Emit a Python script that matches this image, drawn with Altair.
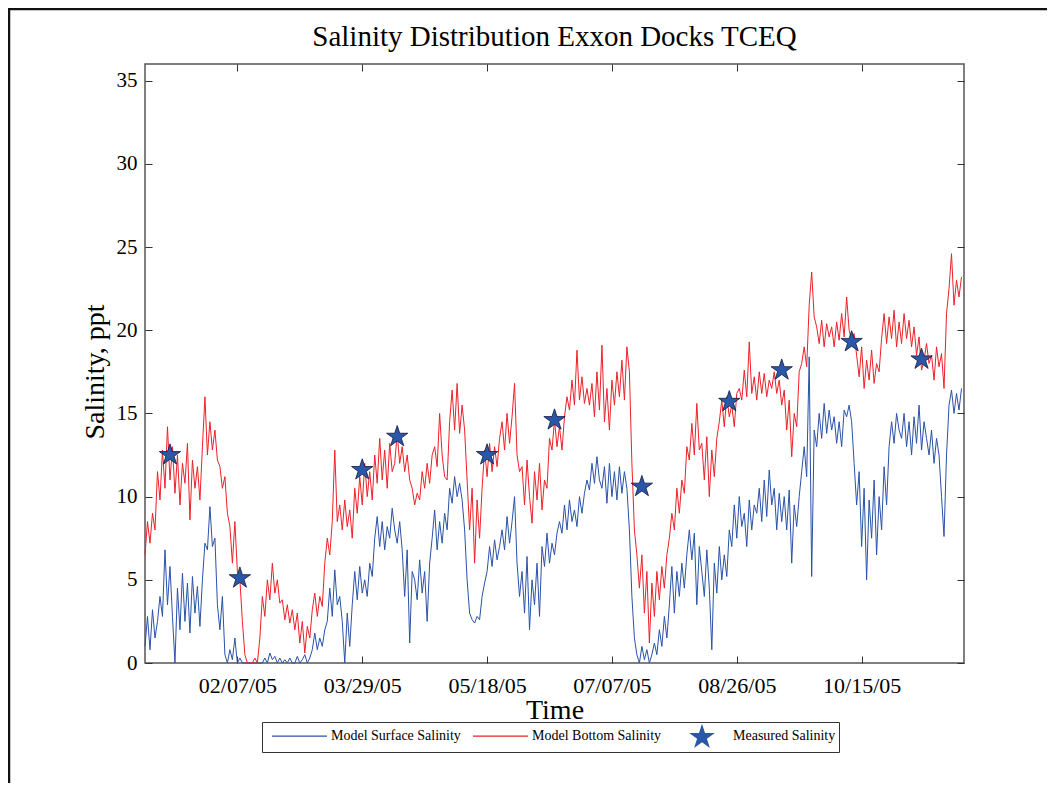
import json
import math
import altair as alt
import pandas as pd

# ---------------- data (day 0 = 2005-01-01, one value per day) ----------------
tick_days = [37, 87, 137, 187, 237, 287]
tick_labels = ["02/07/05", "03/29/05", "05/18/05", "07/07/05", "08/26/05", "10/15/05"]
y_ticks = [0, 5, 10, 15, 20, 25, 30, 35]

surface = [
    1.0, 2.8, 0.8, 3.2, 1.5, 2.5, 4.0,
    2.8, 6.8, 3.5, 5.8, 2.8, 0.0,
    4.5, 2.0, 5.4, 2.5, 4.8, 1.8, 5.2, 3.0, 4.6, 2.2, 5.0,
    7.2, 6.8, 9.4, 7.0, 7.5,
    3.5, 2.0, 4.0,
    0.5, 0.0, 0.8, 0.2, 1.5, 0.0, 0.3,
    0.0, 0.0, 0.0, 0.0, 0.0, 0.0, 0.0, 0.0, 0.0,
    0.3, 0.0, 0.6, 0.2, 0.4, 0.0, 0.3, 0.0, 0.2, 0.0,
    0.3, 0.0, 0.0, 0.4, 0.0, 0.2, 0.5, 0.0, 0.3, 0.8,
    1.8, 0.8, 1.5, 1.0, 2.0, 2.5,
    4.5, 2.8, 5.6, 3.5, 4.0,
    2.5, 0.0, 3.0, 1.0, 3.5,
    5.5, 3.8, 5.8, 4.2, 5.0, 4.0, 6.0, 5.2,
    7.5, 8.8, 7.0, 8.5, 6.8, 8.2, 7.5, 9.3,
    8.0, 7.2, 8.5, 6.8,
    4.0, 6.8, 1.2, 5.5,
    5.0, 3.8, 6.2, 4.2, 5.5, 2.5, 6.0,
    7.5, 9.2, 6.8, 8.5, 7.2, 9.0, 8.0,
    10.5, 9.6, 11.2, 10.0, 10.8, 9.8,
    8.0, 5.0, 3.0,
    2.6, 2.4, 2.8, 2.6,
    4.0, 4.8, 5.5,
    7.0, 5.8, 7.4, 6.2, 7.0,
    8.0, 6.8, 8.8, 7.2, 8.5, 10.0,
    6.0, 4.0,
    5.5, 3.0, 6.4, 2.0, 5.0, 3.5, 6.0, 2.8,
    7.0, 5.8, 7.8, 6.0, 7.2, 6.5, 7.8,
    8.5, 7.8, 9.5, 8.0, 9.8, 8.5, 9.2, 8.2, 10.0, 9.0, 10.2,
    11.0, 10.4, 12.0, 10.8, 12.4, 11.0,
    10.5, 11.8, 9.6, 12.0, 10.0, 11.5, 9.8, 11.8, 10.2, 11.5, 10.5,
    8.0, 4.0, 1.5,
    0.5, 0.0, 1.0, 0.2, 0.8, 0.0, 0.5, 1.2,
    0.5, 2.0, 1.0, 2.8, 1.5,
    3.5, 5.8, 3.0, 5.5, 4.0, 6.0, 4.5,
    6.5, 8.0, 6.2, 7.8, 3.5, 7.0,
    5.5, 4.0, 6.8, 4.5, 0.8, 6.0, 4.2, 7.0, 5.0, 6.5, 5.2,
    8.0, 7.0, 9.5, 7.5, 10.0, 8.2, 9.0, 7.0, 9.8, 8.0, 9.5,
    9.0, 10.5, 8.5, 11.0, 8.8, 11.6, 9.5, 10.5, 8.0, 10.2,
    8.5, 10.0, 8.0, 10.4, 6.0, 9.5, 8.2, 10.0,
    11.5, 13.0, 11.2,
    18.4, 5.2,
    14.0, 13.0, 15.0, 13.5, 15.6, 13.8, 15.2, 14.0, 14.8, 13.2, 14.5, 13.0,
    15.2, 14.8, 15.5, 14.5, 12.0,
    9.5, 11.5, 7.0, 10.5, 5.0, 9.8, 7.5, 11.0, 6.5, 10.0, 8.0, 11.8, 9.5,
    13.0, 14.5, 13.2, 15.0, 14.0,
    13.5, 15.0, 13.0, 14.5, 12.5, 14.8, 13.2, 15.5, 12.8, 14.5, 13.5,
    12.5, 14.0, 12.0, 13.5, 12.5,
    10.0, 7.6, 12.5,
    15.5, 16.4, 15.0, 16.2, 15.2, 16.5,
]

bottom = [
    6.5, 8.5, 7.2, 9.0, 8.0,
    11.5, 9.8, 12.8, 10.5, 14.2, 11.0, 13.0,
    10.2, 12.5, 9.5, 12.0, 10.8, 13.2, 8.6, 12.2, 10.5, 11.8, 9.8,
    13.0, 16.0, 12.5, 14.5, 12.8, 14.0, 12.2,
    11.8, 10.5, 11.2, 9.0,
    8.2, 6.0, 8.5, 5.5, 5.0,
    2.5, 0.5, 0.0, 0.0, 0.0, 0.3, 0.0, 1.5,
    4.0, 2.8, 5.0, 3.8, 6.0, 4.2, 5.0, 3.6,
    3.8, 2.6, 3.5, 2.4, 3.2, 2.0, 3.0,
    1.2, 2.5, 0.6, 2.2, 1.5,
    3.2, 4.2, 2.8, 4.0, 3.4,
    6.0, 7.5, 6.5, 8.5,
    12.8, 8.5, 9.5, 8.0, 9.8, 8.2, 9.2, 7.5,
    10.5, 9.0, 11.2, 9.5, 12.0, 10.0, 11.5, 9.8,
    12.5, 10.8, 13.5, 11.0, 12.8, 10.5, 13.2, 11.5,
    12.0, 13.8, 12.0, 13.0, 11.5, 12.5, 11.0,
    10.5, 9.5, 10.2, 9.8,
    11.5, 10.5, 12.0, 10.8, 12.5,
    13.0, 11.8, 15.0, 12.5, 11.2, 11.0,
    14.5, 16.4, 14.0, 16.8, 13.8, 15.5, 14.0,
    11.0, 8.0, 10.5, 6.0, 9.8, 7.5, 10.5,
    12.8, 11.2, 13.2, 11.5, 13.0, 11.8, 13.5,
    14.5, 12.8, 15.0, 13.2, 14.8, 16.8,
    12.5, 11.5,
    11.8, 9.5, 12.2, 10.0, 8.4, 11.5, 9.8, 12.0, 9.2, 11.0, 10.5,
    13.5, 12.8, 14.6, 13.0, 14.2, 12.8, 14.8,
    16.0, 15.2, 17.0, 15.5, 18.8, 15.8, 17.2, 15.6, 16.5,
    15.5, 16.8, 14.8, 17.5, 15.2, 19.1, 14.5, 16.5, 14.0, 17.0, 15.5,
    17.5, 16.0, 18.2, 15.8, 19.0, 17.5,
    12.0, 8.0, 6.5,
    4.5, 6.5, 3.0, 5.5, 1.2, 4.8, 2.8,
    5.5, 3.8, 5.8, 4.5, 6.5,
    7.5, 9.0, 8.0, 10.5, 9.0, 11.0, 10.2,
    13.0, 12.2, 14.4, 12.5, 15.6, 12.8,
    13.2, 11.0, 13.6, 10.0, 12.8, 11.2, 13.5,
    14.5, 15.8, 14.2, 16.0, 14.8, 15.5, 14.2, 16.2,
    16.5, 15.8, 17.6, 16.0, 19.3, 16.2, 17.2, 15.8, 17.5,
    16.2, 17.4, 16.0, 17.0, 16.5, 17.5, 16.2, 17.0,
    15.5, 16.4, 14.0, 15.8, 12.4, 15.0, 14.2,
    17.5, 18.0, 19.0, 17.8,
    21.5, 23.5, 20.8,
    20.2, 19.2, 20.6, 19.0, 20.4, 19.6, 20.2, 19.0, 20.5, 19.4,
    21.0, 19.6, 22.0, 20.0, 19.4, 19.8,
    18.5, 17.2, 19.0, 16.5, 18.2, 17.0, 18.8, 16.8, 18.0, 17.5,
    19.5, 21.0, 19.2, 20.8, 19.5, 21.2, 19.0, 20.5, 19.2, 21.0, 19.5, 20.6, 19.0, 20.2,
    18.5, 19.6, 17.6, 18.2, 19.2, 18.0,
    18.5, 17.0, 19.0, 17.8, 18.6, 16.5,
    21.0, 22.5, 24.6, 21.5, 23.0, 22.0, 23.2,
]

measured_day = [10, 38, 87, 101, 137, 164, 199, 234, 255, 283, 311]
measured_val = [12.5, 5.1, 11.6, 13.6, 12.5, 14.6, 10.6, 15.7, 17.6, 19.3, 18.25]

series_names = ["Model Surface Salinity", "Model Bottom Salinity", "Measured Salinity"]
series_colors = ["#2A52A8", "#EE2028", "#2A57A7"]

# ---------------- layout constants ----------------
W, H = 819, 599
PAD = {"left": 137, "top": 56, "right": 83, "bottom": 120}
SERIF = "Liberation Serif"
X_MAX, Y_MAX = 328, 36


def star_path(dx, dy=0.0, R=1.15, ri=0.382):
    pts = []
    for k in range(10):
        ang = math.radians(-90 + 36 * k)
        r = R if k % 2 == 0 else R * ri
        pts.append((dx + r * math.cos(ang), dy + r * math.sin(ang)))
    return "M" + "L".join(f"{x:.4f},{y:.4f}" for x, y in pts) + "Z"


# line sample for the legend; the two lone move-to points only give it the
# same vertical extent as the (vertically centred) star symbol
LINE_SYMBOL = "M-0.4,-1.04M-0.4,1.04M-0.4,0H5.1"
STAR_DX = 2.4
STAR_DY = 0.11
LEGEND_SIZE = 400
STAR_SIZE = 380

surf_df = pd.DataFrame({"day": list(range(len(surface))), "value": surface,
                        "series": series_names[0]})
bot_df = pd.DataFrame({"day": list(range(len(bottom))), "value": bottom,
                       "series": series_names[1]})
meas_df = pd.DataFrame({"day": measured_day, "value": measured_val,
                        "series": series_names[2]})

x_scale = alt.Scale(domain=[0, X_MAX], nice=False, zero=False)
y_scale = alt.Scale(domain=[0, Y_MAX], nice=False, zero=False)
color_scale = alt.Scale(domain=series_names, range=series_colors)
shape_scale = alt.Scale(domain=series_names,
                        range=[LINE_SYMBOL, LINE_SYMBOL, star_path(STAR_DX, STAR_DY)])

legend = alt.Legend(
    title=None, orient="none", legendX=117, legendY=658, direction="horizontal",
    symbolSize=LEGEND_SIZE, symbolStrokeWidth=1.2, labelFont=SERIF,
    labelFontSize=14, labelColor="black", labelOffset=44, columnPadding=5,
    strokeColor="#333333", padding=3, labelBaseline="middle",
)

label_expr = f"{json.dumps(tick_labels)}[indexof({json.dumps(tick_days)}, datum.value)]"

tick_style = dict(labels=False, ticks=True, tickSize=7, tickColor="#333333",
                  tickWidth=1, domain=False, grid=False, title=None)

x_main = alt.Axis(orient="bottom", values=tick_days, labelExpr=label_expr, ticks=False,
                  domain=False, grid=False, title="Time", labelFont=SERIF,
                  labelFontSize=22, labelColor="black", labelPadding=12,
                  titleFont=SERIF, titleFontSize=28, titleFontWeight="normal",
                  titleColor="black", titlePadding=0)
y_main = alt.Axis(orient="left", values=y_ticks, ticks=False, domain=False, grid=False,
                  title="Salinity, ppt", labelFont=SERIF, labelFontSize=21,
                  labelColor="black", labelPadding=8, titleFont=SERIF,
                  titleFontSize=28, titleFontWeight="normal", titleColor="black",
                  titlePadding=7, titleY=H / 2 + 8)
x_tick_bottom = alt.Axis(orient="top", offset=-H, values=tick_days, **tick_style)
x_tick_top = alt.Axis(orient="bottom", offset=-H, values=tick_days, **tick_style)
y_tick_left = alt.Axis(orient="right", offset=-W, values=y_ticks, **tick_style)
y_tick_right = alt.Axis(orient="left", offset=-W, values=y_ticks, **tick_style)

surf_layer = alt.Chart(surf_df).mark_line(strokeWidth=1).encode(
    x=alt.X("day:Q", scale=x_scale, axis=x_main),
    y=alt.Y("value:Q", scale=y_scale, axis=y_main),
    color=alt.Color("series:N", scale=color_scale, legend=legend),
)

bot_layer = alt.Chart(bot_df).mark_line(strokeWidth=1).encode(
    x=alt.X("day:Q", scale=x_scale, axis=x_tick_bottom),
    y=alt.Y("value:Q", scale=y_scale, axis=y_tick_left),
    color=alt.Color("series:N", scale=color_scale, legend=legend),
)

star_half = math.sqrt(STAR_SIZE) / 2
star_fill = alt.Chart(meas_df).mark_point(
    filled=True, opacity=1, size=STAR_SIZE, strokeWidth=0,
    xOffset=-STAR_DX * star_half, yOffset=-STAR_DY * star_half,
).encode(
    x=alt.X("day:Q", scale=x_scale, axis=x_tick_top),
    y=alt.Y("value:Q", scale=y_scale, axis=y_tick_right),
    color=alt.Color("series:N", scale=color_scale, legend=legend),
    shape=alt.Shape("series:N", scale=shape_scale, legend=legend),
)

star_edge = alt.Chart(meas_df).mark_point(
    filled=False, opacity=1, size=STAR_SIZE, shape=star_path(0),
    stroke="#15153a", strokeWidth=0.8,
).encode(
    x=alt.X("day:Q", scale=x_scale, axis=None),
    y=alt.Y("value:Q", scale=y_scale, axis=None),
)

frame_df = pd.DataFrame({"k": [0]})
border_top = alt.Chart(frame_df).mark_rule(color="#111111", strokeWidth=2.5).encode(
    x=alt.value(-PAD["left"]), x2=alt.value(W + PAD["right"]),
    y=alt.value(-PAD["top"] + 1),
)
border_left = alt.Chart(frame_df).mark_rule(color="#111111", strokeWidth=2.5).encode(
    x=alt.value(-PAD["left"] + 1), y=alt.value(-PAD["top"]),
    y2=alt.value(H + PAD["bottom"]),
)

chart = alt.layer(
    surf_layer, bot_layer, star_fill, star_edge, border_top, border_left
).resolve_axis(x="independent", y="independent").properties(
    width=W, height=H, padding=PAD, autosize=alt.AutoSizeParams(type="none"),
    background="white",
    title=alt.TitleParams("Salinity Distribution Exxon Docks TCEQ", font=SERIF,
                          fontSize=29, fontWeight="normal", color="black",
                          anchor="middle", offset=0, dy=45),
).configure_view(stroke="#555555", strokeWidth=1.5)

chart.save("out.html", embed_options={"renderer": "svg", "actions": False})
